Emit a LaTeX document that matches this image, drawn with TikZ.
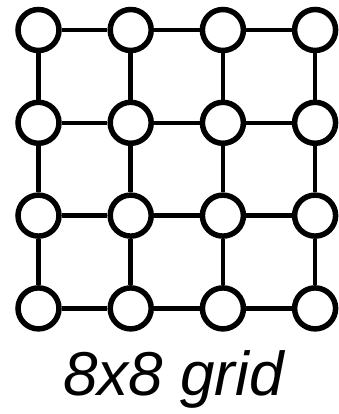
\documentclass[tikz,border=0pt]{standalone}
\usepackage{fontspec}
\setmainfont{Liberation Sans}
\usetikzlibrary{positioning}

\begin{document}
\begin{tikzpicture}[x=1pt, y=1pt,
          vtx/.style={draw, circle, fill=white, line width=5.5pt,
                      minimum size=41pt, inner sep=0pt},
          lnk/.style={line width=4.5pt}]
        \useasboundingbox (0,0) rectangle (339,-414);
        % 4x4 grid of vertices
        \foreach \i in {0,...,3}
          \foreach \j in {0,...,3}
            \node[vtx] (n-\i-\j) at ({38.5+92.2*\i}, {-30-92.8*\j}) {};
        % links
        \foreach \i in {0,...,3}
          \foreach \j in {0,...,2} {
            \pgfmathtruncatemacro{\k}{\j+1}
            \draw[lnk] (n-\i-\j) -- (n-\i-\k);
            \draw[lnk] (n-\j-\i) -- (n-\k-\i);
          }
        \node[anchor=base, font=\fontsize{62}{64}\selectfont\itshape] (cap) at (173.5,-395) {8x8 grid};
      \end{tikzpicture}
\end{document}
